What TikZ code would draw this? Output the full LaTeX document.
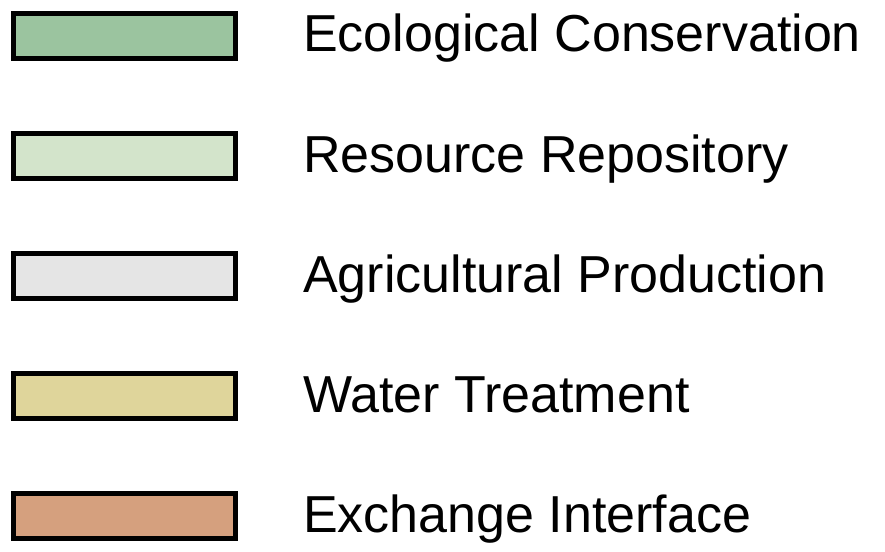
\documentclass[tikz,border=0pt]{standalone}
\usepackage{fontspec}
\setmainfont{Liberation Sans}
\definecolor{ceco}{HTML}{9BC49F}
\definecolor{cres}{HTML}{D3E4CB}
\definecolor{cagr}{HTML}{E5E5E5}
\definecolor{cwat}{HTML}{DFD59B}
\definecolor{cexc}{HTML}{D5A07E}
\tikzset{
  swatch/.style={draw=black, line width=5pt, minimum width=222pt, minimum height=45pt, inner sep=0pt, anchor=north west},
  lbl/.style={anchor=base west, inner sep=0pt, font=\fontsize{52}{60}\selectfont}
}
\begin{document}
\begin{tikzpicture}[x=1pt,y=1pt]
\useasboundingbox (0,0) rectangle (885,-551);
\node[swatch, fill=ceco] (s1) at (11,-11) {};
\node[swatch, fill=cres] (s2) at (11,-131) {};
\node[swatch, fill=cagr] (s3) at (11,-251) {};
\node[swatch, fill=cwat] (s4) at (11,-371) {};
\node[swatch, fill=cexc] (s5) at (11,-491) {};
\node[lbl] (t1) at (303,-52) {Ecological Conservation};
\node[lbl] (t2) at (303,-172) {Resource Repository};
\node[lbl] (t3) at (303,-292) {Agricultural Production};
\node[lbl] (t4) at (303,-412) {Water Treatment};
\node[lbl] (t5) at (303,-532) {Exchange Interface};
\end{tikzpicture}
\end{document}
